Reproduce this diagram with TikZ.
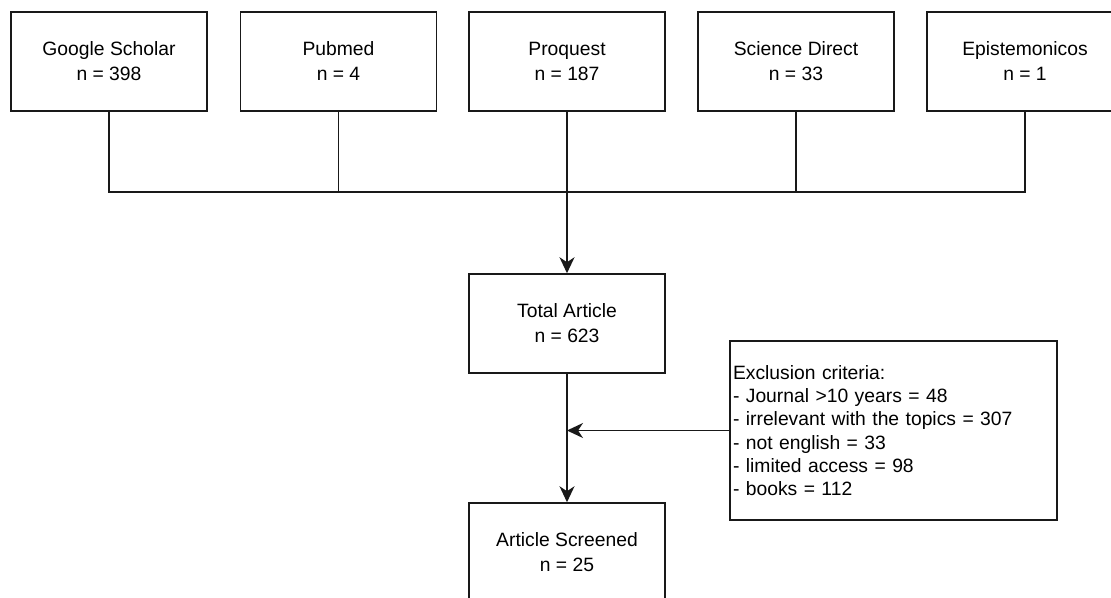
\documentclass[tikz,border=0pt]{standalone}
\usepackage{fontspec}
\setmainfont{Liberation Sans}
\usetikzlibrary{arrows.meta}
\tikzset{
  x=1pt, y=1pt,
  box/.style={draw=black!90, line width=1.5pt, minimum width=196pt, minimum height=99pt,
    inner sep=2pt, align=center, font=\fontsize{19.3pt}{25pt}\selectfont},
  exbox/.style={draw=black!90, line width=1.5pt, minimum height=179pt, text width=321pt,
    inner xsep=3pt, inner ysep=2pt, align=left, font=\fontsize{19.3pt}{23.3pt}\selectfont},
  link/.style={draw=black!90, line width=1.5pt},
  arr/.style={link, -{Stealth[length=16pt,width=15pt,inset=5pt]}},
  thickarr/.style={arr, line width=2.3pt}
}
\begin{document}
\begin{tikzpicture}
\useasboundingbox (0,0) rectangle (1111,-597);
\node[box] (gs) at (109,-61.5) {Google Scholar\\n = 398};
\node[box] (pm) at (338.5,-61.5) {Pubmed\\n = 4};
\node[box] (pq) at (567,-61.5) {Proquest\\n = 187};
\node[box] (sd) at (796,-61.5) {Science Direct\\n = 33};
\node[box] (ep) at (1025,-61.5) {Epistemonicos\\n = 1};
\node[box] (ta) at (567,-323.5) {Total Article\\n = 623};
\node[box] (as) at (567,-552.5) {Article Screened\\n = 25};
\node[exbox] (ex) at (893.5,-430.5) {Exclusion criteria:\\- Journal >10 years = 48\\- irrelevant with the topics = 307\\- not english = 33\\- limited access = 98\\- books = 112};
\coordinate (j) at (567,-192);
\draw[link] (gs.south) -- (gs.south |- j) -- (ep.south |- j) -- (ep.south);
\draw[link] (pm.south) -- (pm.south |- j);
\draw[link] (pq.south) -- (j);
\draw[link] (sd.south) -- (sd.south |- j);
\draw[thickarr] (j) -- (ta.north);
\draw[arr] (ta.south) -- (as.north);
\draw[arr] (ex.west) -- (ex.west -| ta.south);
\end{tikzpicture}
\end{document}
